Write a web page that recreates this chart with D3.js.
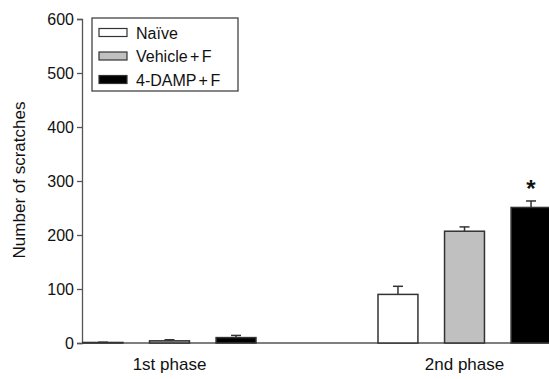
<!DOCTYPE html>
<html>
<head>
<meta charset="utf-8">
<script src="https://cdn.jsdelivr.net/npm/d3@7"></script>
<style>
  body { margin: 0; background: #fff; }
  text { font-family: "Liberation Sans", Arial, sans-serif; }
</style>
</head>
<body>
<div id="chart"></div>
<script>
// data
const phases = ['1st phase', '2nd phase'];
const groups = ['Naïve', 'Vehicle + F', '4-DAMP + F'];
const means = [[1, 4, 10], [90, 207, 251]];
const errs = [[0.5, 2, 4], [15, 8, 12]];
const yTicks = [0, 100, 200, 300, 400, 500, 600];
const fills = ['#ffffff', '#c0c0c0', '#000000'];

const width = 549, height = 379;
const svg = d3.select('#chart').append('svg')
  .attr('width', width).attr('height', height);

const x = d3.scaleBand()
  .domain(phases)
  .range([83, 551])
  .paddingInner(0.4136)
  .paddingOuter(0);

const xi = d3.scaleBand()
  .domain(groups)
  .range([0, x.bandwidth()])
  .paddingInner(0.4);

const y = d3.scaleLinear().domain([0, 600]).range([343, 19]);

const axisColor = '#555';

// y axis
const yAxis = svg.append('g')
  .attr('transform', 'translate(82,0)')
  .call(d3.axisLeft(y).tickValues(yTicks).tickSize(5).tickPadding(3));
yAxis.select('.domain').attr('stroke', axisColor).attr('stroke-width', 1.3);
yAxis.selectAll('.tick line').attr('stroke', axisColor).attr('stroke-width', 1.3);
yAxis.selectAll('.tick text').attr('font-size', 16).attr('fill', '#111')
  .attr('font-family', '"Liberation Sans", Arial, sans-serif');

// x axis line
svg.append('line')
  .attr('x1', 82).attr('x2', width)
  .attr('y1', y(0)).attr('y2', y(0))
  .attr('stroke', axisColor).attr('stroke-width', 1.3);

svg.append('text')
  .attr('transform', 'translate(25,180) rotate(-90)')
  .attr('text-anchor', 'middle')
  .attr('font-size', 17)
  .attr('fill', '#111')
  .text('Number of scratches');

// phase labels
svg.selectAll('.phase')
  .data(phases)
  .enter().append('text')
  .attr('x', d => x(d) + x.bandwidth() / 2)
  .attr('y', 370)
  .attr('text-anchor', 'middle')
  .attr('font-size', 17)
  .attr('fill', '#111')
  .text(d => d);

// bars
phases.forEach((p, pi) => {
  const g = svg.append('g').attr('transform', 'translate(' + x(p) + ',0)');
  groups.forEach((s, si) => {
    const cx = xi(s) + xi.bandwidth() / 2;
    const top = y(means[pi][si] + errs[pi][si]);
    g.append('line')
      .attr('x1', cx).attr('x2', cx)
      .attr('y1', y(means[pi][si])).attr('y2', top)
      .attr('stroke', '#333').attr('stroke-width', 1.5);
    g.append('line')
      .attr('x1', cx - 5).attr('x2', cx + 5)
      .attr('y1', top).attr('y2', top)
      .attr('stroke', '#333').attr('stroke-width', 1.5);
    g.append('rect')
      .attr('x', xi(s))
      .attr('y', y(means[pi][si]))
      .attr('width', xi.bandwidth())
      .attr('height', y(0) - y(means[pi][si]))
      .attr('fill', fills[si])
      .attr('stroke', '#333')
      .attr('stroke-width', 1.5);
  });
});

// significance mark
svg.append('text')
  .attr('x', x(phases[1]) + xi(groups[2]) + xi.bandwidth() / 2)
  .attr('y', y(means[1][2] + errs[1][2]) - 4)
  .attr('text-anchor', 'middle')
  .attr('font-size', 24)
  .attr('font-weight', 'bold')
  .attr('fill', '#111')
  .text('*');

// legend
const legend = svg.append('g');
legend.append('rect')
  .attr('x', 92).attr('y', 18).attr('width', 146).attr('height', 73)
  .attr('fill', '#fff').attr('stroke', '#444').attr('stroke-width', 1.3);
groups.forEach((s, i) => {
  const cy = 32.5 + i * 23.5;
  legend.append('rect')
    .attr('x', 99).attr('y', cy - 4).attr('width', 28).attr('height', 8)
    .attr('fill', fills[i]).attr('stroke', '#333').attr('stroke-width', 1.2);
  legend.append('text')
    .attr('x', 136).attr('y', cy + 6)
    .attr('font-size', 16).attr('fill', '#111')
    .attr('word-spacing', -2)
    .text(s);
});
</script>
</body>
</html>
